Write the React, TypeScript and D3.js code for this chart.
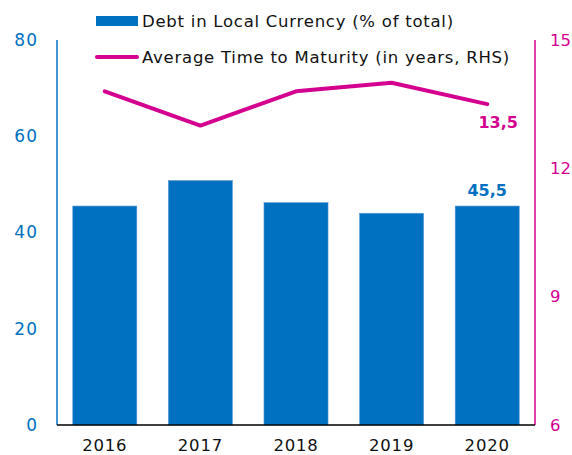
import React from "react";
import * as d3 from "d3";

const years = ["2016", "2017", "2018", "2019", "2020"];
const debtLocal = [45.5, 50.8, 46.2, 44.0, 45.5];
const maturity = [13.8, 13.0, 13.8, 14.0, 13.5];
const leftTicks = [0, 20, 40, 60, 80];
const rightTicks = [6, 9, 12, 15];

const BLUE = "#0070c0";
const PINK = "#d4008f";
const FONT = "'DejaVu Sans', 'Noto Sans', sans-serif";

export default function App() {
  const width = 572;
  const height = 455;
  const margin = { top: 40, right: 37, bottom: 30, left: 57 };
  const innerW = width - margin.left - margin.right;
  const innerH = height - margin.top - margin.bottom;

  const x = d3.scaleBand<string>().domain(years).range([0, innerW]).paddingInner(0.33).paddingOuter(0.165);
  const yL = d3.scaleLinear().domain([0, 80]).range([innerH, 0]);
  const yR = d3.scaleLinear().domain([6, 15]).range([innerH, 0]);

  const line = d3
    .line<number>()
    .x((_, i) => (x(years[i]) || 0) + x.bandwidth() / 2)
    .y((d) => yR(d));

  const last = years.length - 1;
  const lastX = (x(years[last]) || 0) + x.bandwidth() / 2;

  return (
    <svg width={width} height={height} style={{ position: "absolute", left: 0, top: 0, fontFamily: FONT }}>
      <g transform={`translate(${margin.left},${margin.top})`}>
        {debtLocal.map((d, i) => (
          <rect
            key={years[i]}
            x={x(years[i])}
            y={yL(d)}
            width={x.bandwidth()}
            height={innerH - yL(d)}
            fill={BLUE}
            stroke="#5b9bd5"
            strokeWidth={0.6}
          />
        ))}
        <path d={line(maturity) || ""} fill="none" stroke={PINK} strokeWidth={4} strokeLinecap="round" strokeLinejoin="round" />

        {/* axes */}
        <line x1={0} x2={0} y1={0} y2={innerH} stroke={BLUE} strokeWidth={1.5} />
        <line x1={innerW} x2={innerW} y1={0} y2={innerH} stroke={PINK} strokeWidth={1.5} />
        <line x1={0} x2={innerW} y1={innerH} y2={innerH} stroke="#000" strokeWidth={1.5} />

        {leftTicks.map((t) => (
          <text key={t} x={-19} y={yL(t)} dy="0.35em" textAnchor="end" fill={BLUE} fontSize={17} letterSpacing={1}>
            {t}
          </text>
        ))}
        {rightTicks.map((t) => (
          <text key={t} x={innerW + 15} y={yR(t)} dy="0.35em" textAnchor="start" fill={PINK} fontSize={16.5}>
            {t}
          </text>
        ))}
        {years.map((yr) => (
          <text key={yr} x={(x(yr) || 0) + x.bandwidth() / 2} y={innerH + 20} dy="0.35em" textAnchor="middle" fill="#111" fontSize={16.5} letterSpacing={0.8}>
            {yr}
          </text>
        ))}

        {/* data labels */}
        <text x={lastX} y={yL(debtLocal[last]) - 16} dy="0.35em" textAnchor="middle" fill={BLUE} fontSize={16} fontWeight="bold">
          {String(debtLocal[last]).replace(".", ",")}
        </text>
        <text x={lastX + 11} y={yR(maturity[last]) + 18} dy="0.35em" textAnchor="middle" fill={PINK} fontSize={16} fontWeight="bold">
          {String(maturity[last]).replace(".", ",")}
        </text>
      </g>

      {/* legend */}
      <g>
        <rect x={96} y={16} width={42} height={10} fill={BLUE} />
        <text x={142} y={21} dy="0.35em" fill="#111" fontSize={16.5} letterSpacing={0.75}>
          Debt in Local Currency (% of total)
        </text>
        <line x1={97} x2={137} y1={57} y2={57} stroke={PINK} strokeWidth={4} strokeLinecap="round" />
        <text x={142} y={57} dy="0.35em" fill="#111" fontSize={16.5} letterSpacing={0.75}>
          Average Time to Maturity (in years, RHS)
        </text>
      </g>
    </svg>
  );
}
